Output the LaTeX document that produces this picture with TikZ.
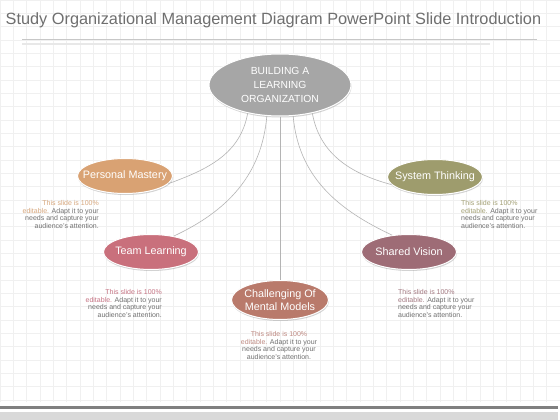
\documentclass[tikz,border=0pt]{standalone}
\usepackage{fontspec}
\setmainfont{Liberation Sans}
\usepackage{xcolor}
\usepackage{tikz}
\usetikzlibrary{shapes.geometric,shadows}

\definecolor{hubgray}{HTML}{A6A6A6}
\definecolor{pmfill}{HTML}{D9A273}
\definecolor{stfill}{HTML}{9E9C6D}
\definecolor{tlfill}{HTML}{C9707C}
\definecolor{svfill}{HTML}{9E6C76}
\definecolor{chfill}{HTML}{B97A6B}
\definecolor{pmtext}{HTML}{D6A67C}
\definecolor{sttext}{HTML}{A3A075}
\definecolor{tltext}{HTML}{C67484}
\definecolor{svtext}{HTML}{A47A82}
\definecolor{chtext}{HTML}{BE8A82}
\definecolor{notegray}{HTML}{707070}
\definecolor{titlegray}{HTML}{6F6F6F}
\definecolor{edgegray}{HTML}{B4B4B4}
\definecolor{gridgray}{HTML}{F0F0F0}

\newcommand{\lbl}[1]{\makebox[0pt]{#1}}

\begin{document}
\begin{tikzpicture}[x=1pt,y=1pt]
			\tikzstyle{hub} = [ellipse, draw=white, line width=1pt, fill=hubgray, text=white, minimum width=142pt, minimum height=62pt, inner sep=0pt, align=center, font=\fontsize{10.3}{13.7}\selectfont, drop shadow={shadow xshift=0.5pt, shadow yshift=-1.5pt, opacity=0.35}]
			\tikzstyle{branch} = [ellipse, draw=white, line width=1pt, text=white, minimum width=95pt, minimum height=35pt, inner sep=0pt, align=center, font=\fontsize{10.8}{13}\selectfont, drop shadow={shadow xshift=0.5pt, shadow yshift=-1.5pt, opacity=0.35}]
			\tikzstyle{note} = [inner sep=0pt, text=notegray, font=\fontsize{7}{7.8}\selectfont]
			\tikzset{spoke/.style = {-, draw=edgegray, line width=0.6pt}}

			% page
			\useasboundingbox (0,0) rectangle (560,-420);
			\fill[white] (0,0) rectangle (560,-420);
			\draw[gridgray, line width=0.4pt] (0,-402) grid[step=13.33pt] (560,0);
			\node[anchor=base west, inner sep=0pt, text=titlegray, font=\fontsize{16.3}{18}\selectfont](title) at (5.5,-25) {Study Organizational Management Diagram PowerPoint Slide Introduction};
			\draw[black!22, line width=0.8pt] (22,-39) -- (537,-39);
			\draw[black!9, line width=1.4pt] (22,-44) -- (490,-44);
			\fill[black!50] (0,-405.5) rectangle (558,-409);
			\fill[black!15] (0,-412) rectangle (558,-420);

			% ellipses
			\node[hub](hub)    at (280,-85)  {BUILDING A\\LEARNING\\ORGANIZATION};
			\node[branch, fill=pmfill](pm) at (125,-176) {\lbl{Personal Mastery}};
			\node[branch, fill=stfill](st) at (435,-177) {\lbl{System Thinking}};
			\node[branch, fill=tlfill](tl) at (151,-252) {\lbl{Team Learning}};
			\node[branch, fill=svfill](sv) at (409,-252) {\lbl{Shared Vision}};
			\node[branch, fill=chfill, minimum width=97pt, minimum height=39pt](ch) at (280,-300) {\lbl{Challenging Of}\\\lbl{Mental Models}};

			% connectors
			\draw[spoke](hub.221)   to[out=-100,in=20]  (pm.-10);
			\draw[spoke](hub.247)   to[out=-95,in=25]   (tl.35);
			\draw[spoke](hub.south) --                  (ch.north);
			\draw[spoke](hub.293)   to[out=-85,in=155]  (sv.135);
			\draw[spoke](hub.319)   to[out=-80,in=165]  (st.190);

			% notes
			\node[note, anchor=north east, align=right](pmnote) at (99,-200) {\textcolor{pmtext}{This slide is 100\%}\\\textcolor{pmtext}{editable.} Adapt it to your\\needs and capture your\\audience's attention.};
			\node[note, anchor=north west, align=left](stnote) at (461,-200) {\textcolor{sttext}{This slide is 100\%}\\\textcolor{sttext}{editable.} Adapt it to your\\needs and capture your\\audience's attention.};
			\node[note, anchor=north east, align=right](tlnote) at (162,-289) {\textcolor{tltext}{This slide is 100\%}\\\textcolor{tltext}{editable.} Adapt it to your\\needs and capture your\\audience's attention.};
			\node[note, anchor=north west, align=left](svnote) at (398,-289) {\textcolor{svtext}{This slide is 100\%}\\\textcolor{svtext}{editable.} Adapt it to your\\needs and capture your\\audience's attention.};
			\node[note, anchor=north, align=center](chnote) at (279,-331) {\textcolor{chtext}{This slide is 100\%}\\\textcolor{chtext}{editable.} Adapt it to your\\needs and capture your\\audience's attention.};
\end{tikzpicture}
\end{document}
